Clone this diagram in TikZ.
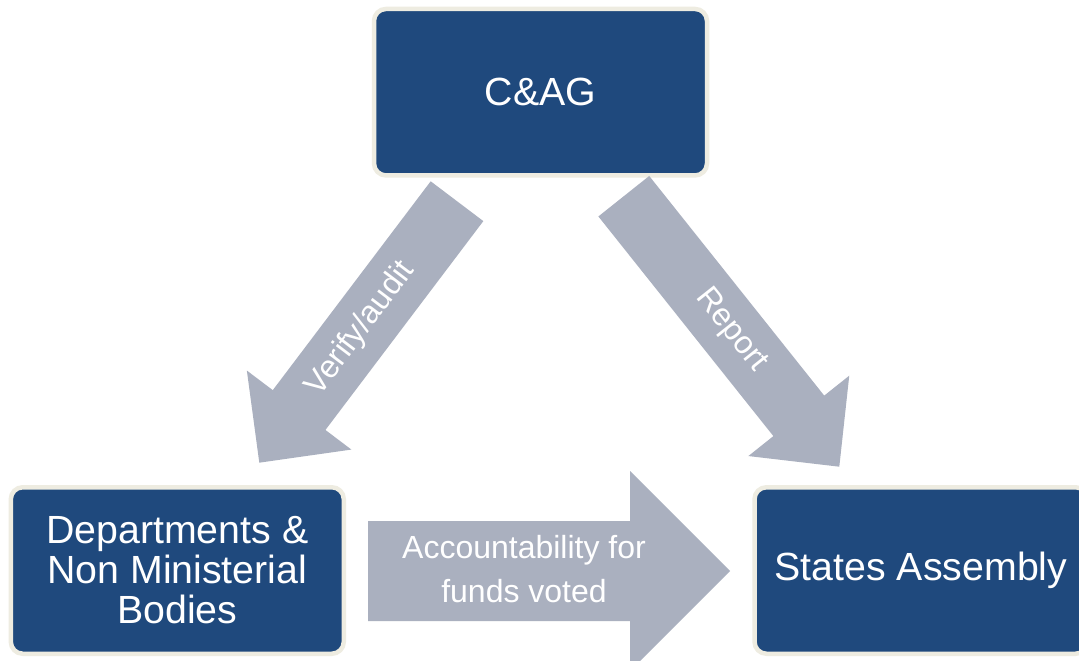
\documentclass[tikz,border=0pt]{standalone}
\usepackage{fontspec}
\setmainfont{Liberation Sans}
\usetikzlibrary{calc}
\definecolor{navy}{HTML}{1F497D}
\definecolor{cream}{HTML}{EEECE1}
\definecolor{arrowgrey}{HTML}{AAB0BF}
\newcommand\blockarrow[5]{%
  \coordinate (hb) at ($(#2)!#5!(#1)$);
  \fill[arrowgrey] ($(#1)!#3!90:(#2)$) -- ($(hb)!#3!90:(#2)$) -- ($(hb)!#4!90:(#2)$)
    -- (#2) -- ($(hb)!#4!-90:(#2)$) -- ($(hb)!#3!-90:(#2)$) -- ($(#1)!#3!-90:(#2)$) -- cycle;}
\begin{document}
\begin{tikzpicture}[x=1pt,y=-1pt,
  box/.style={draw=cream, line width=4.5pt, fill=navy, rounded corners=12pt,
    minimum width=333pt, minimum height=166.5pt, inner sep=0pt, text=white,
    align=center, font=\fontsize{39.3}{40}\selectfont},
  lbl/.style={text=white, inner sep=0pt, font=\fontsize{32}{44}\selectfont}]
\useasboundingbox (0,0) rectangle (1079,661);
\clip (0,0) rectangle (1079,661);
\fill[white] (0,0) rectangle (1079,661);
% boxes
\node[box] (cag) at (540.5,92.2) {C\&AG};
\node[box] (dept) at (177.3,570.5) {Departments \&\\Non Ministerial\\Bodies};
\node[box] (sa) at (921,570.5) {States Assembly};
% arrow end points
\coordinate (vs) at (457,201.2);
\coordinate (vt) at (259.3,462.7);
\coordinate (rs) at (623.8,196.2);
\coordinate (rt) at (839.3,466.7);
\coordinate (as) at (368,571);
\coordinate (at) at (730,571);
% block arrows
\blockarrow{vs}{vt}{33pt}{65.5pt}{66pt}
\blockarrow{rs}{rt}{32.5pt}{64.5pt}{65pt}
\blockarrow{as}{at}{50pt}{100pt}{100pt}
% labels
\node[lbl, rotate=52.9] (vtxt) at (360.5,329) {Verify/audit};
\node[lbl, rotate=-51.5] (rtxt) at (731,330) {Report};
\node[lbl, align=center] (atxt) at (524,569) {Accountability for\\funds voted};
\end{tikzpicture}
\end{document}
